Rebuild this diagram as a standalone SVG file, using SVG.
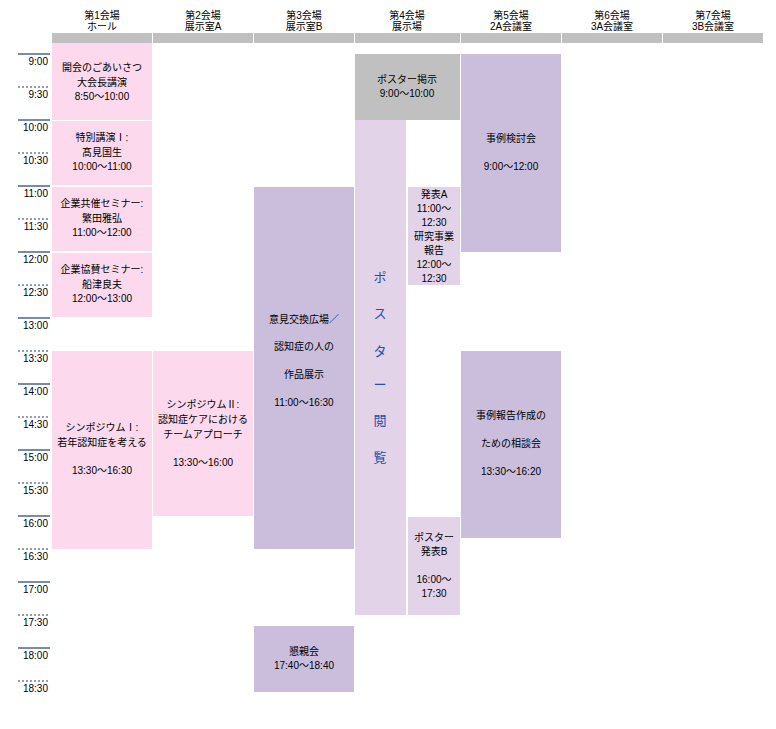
<svg xmlns="http://www.w3.org/2000/svg" width="776" height="729" viewBox="0 0 776 729">
<style>
text{font-family:"Liberation Sans","Noto Sans CJK JP",sans-serif;font-size:10px;fill:#000;text-anchor:middle}
.t{text-anchor:end}
.h{fill:#c0c0c0}
.pk{fill:#fcd9ec}
.pu{fill:#cbbedd}
.lp{fill:#e3d3e8}
.sl{stroke:#1f3f6f;stroke-width:1.2}
.dl{stroke:#1f3f6f;stroke-width:1.2;stroke-dasharray:2 2}
.v{fill:#2050b0;font-size:13px}
</style>
<rect width="776" height="729" fill="#fff"/>
<g id="headers">
<rect class="h" x="52" y="33" width="100" height="10"/><text x="102" y="19">第1会場</text><text x="102" y="30">ホール</text>
<rect class="h" x="153" y="33" width="100" height="10"/><text x="203" y="19">第2会場</text><text x="203" y="30">展示室A</text>
<rect class="h" x="254" y="33" width="100" height="10"/><text x="304" y="19">第3会場</text><text x="304" y="30">展示室B</text>
<rect class="h" x="355" y="33" width="105" height="10"/><text x="407" y="19">第4会場</text><text x="407" y="30">展示場</text>
<rect class="h" x="461" y="33" width="100" height="10"/><text x="511" y="19">第5会場</text><text x="511" y="30">2A会議室</text>
<rect class="h" x="562" y="33" width="100" height="10"/><text x="612" y="19">第6会場</text><text x="612" y="30">3A会議室</text>
<rect class="h" x="663" y="33" width="100" height="10"/><text x="713" y="19">第7会場</text><text x="713" y="30">3B会議室</text>
</g>
<g id="times">
<line class="sl" x1="18" y1="54" x2="50" y2="54"/><text class="t" x="48" y="65">9:00</text>
<line class="dl" x1="18" y1="87" x2="50" y2="87"/><text class="t" x="48" y="98">9:30</text>
<line class="sl" x1="18" y1="120" x2="50" y2="120"/><text class="t" x="48" y="131">10:00</text>
<line class="dl" x1="18" y1="153" x2="50" y2="153"/><text class="t" x="48" y="164">10:30</text>
<line class="sl" x1="18" y1="186" x2="50" y2="186"/><text class="t" x="48" y="197">11:00</text>
<line class="dl" x1="18" y1="219" x2="50" y2="219"/><text class="t" x="48" y="230">11:30</text>
<line class="sl" x1="18" y1="252" x2="50" y2="252"/><text class="t" x="48" y="263">12:00</text>
<line class="dl" x1="18" y1="285" x2="50" y2="285"/><text class="t" x="48" y="296">12:30</text>
<line class="sl" x1="18" y1="318" x2="50" y2="318"/><text class="t" x="48" y="329">13:00</text>
<line class="dl" x1="18" y1="351" x2="50" y2="351"/><text class="t" x="48" y="362">13:30</text>
<line class="sl" x1="18" y1="384" x2="50" y2="384"/><text class="t" x="48" y="395">14:00</text>
<line class="dl" x1="18" y1="417" x2="50" y2="417"/><text class="t" x="48" y="428">14:30</text>
<line class="sl" x1="18" y1="450" x2="50" y2="450"/><text class="t" x="48" y="461">15:00</text>
<line class="dl" x1="18" y1="483" x2="50" y2="483"/><text class="t" x="48" y="494">15:30</text>
<line class="sl" x1="18" y1="516" x2="50" y2="516"/><text class="t" x="48" y="527">16:00</text>
<line class="dl" x1="18" y1="549" x2="50" y2="549"/><text class="t" x="48" y="560">16:30</text>
<line class="sl" x1="18" y1="582" x2="50" y2="582"/><text class="t" x="48" y="593">17:00</text>
<line class="dl" x1="18" y1="615" x2="50" y2="615"/><text class="t" x="48" y="626">17:30</text>
<line class="sl" x1="18" y1="648" x2="50" y2="648"/><text class="t" x="48" y="659">18:00</text>
<line class="dl" x1="18" y1="681" x2="50" y2="681"/><text class="t" x="48" y="692">18:30</text>
</g>
<g id="c1a"><rect class="pk" x="52" y="43" width="100" height="77"/><text x="102" y="71">開会のごあいさつ</text><text x="102" y="86">大会長講演</text><text x="102" y="100">8:50〜10:00</text></g>
<g id="c1b"><rect class="pk" x="52" y="121" width="100" height="64"/><text x="102" y="141">特別講演Ⅰ:</text><text x="102" y="156">髙見国生</text><text x="102" y="170">10:00〜11:00</text></g>
<g id="c1c"><rect class="pk" x="52" y="187" width="100" height="64"/><text x="102" y="207">企業共催セミナー:</text><text x="102" y="222">繁田雅弘</text><text x="102" y="236">11:00〜12:00</text></g>
<g id="c1d"><rect class="pk" x="52" y="253" width="100" height="64"/><text x="102" y="273">企業協賛セミナー:</text><text x="102" y="288">船津良夫</text><text x="102" y="302">12:00〜13:00</text></g>
<g id="c1e"><rect class="pk" x="52" y="351" width="100" height="198"/><text x="102" y="431">シンポジウムⅠ:</text><text x="102" y="446">若年認知症を考える</text><text x="102" y="474">13:30〜16:30</text></g>
<g id="c2"><rect class="pk" x="153" y="351" width="100" height="165"/><text x="203" y="408">シンポジウムⅡ:</text><text x="203" y="423">認知症ケアにおける</text><text x="203" y="438">チームアプローチ</text><text x="203" y="466">13:30〜16:00</text></g>
<g id="c3a"><rect class="pu" x="254" y="187" width="100" height="362"/><text x="304" y="323">意見交換広場／</text><text x="304" y="350">認知症の人の</text><text x="304" y="378">作品展示</text><text x="304" y="406">11:00〜16:30</text></g>
<g id="c3b"><rect class="pu" x="254" y="626" width="100" height="66"/><text x="304" y="655">懇親会</text><text x="304" y="669">17:40〜18:40</text></g>
<g id="c4a"><rect class="h" x="355" y="54" width="105" height="66"/><text x="407" y="83">ポスター掲示</text><text x="407" y="97">9:00〜10:00</text></g>
<g id="c4b"><rect class="lp" x="355" y="120" width="51" height="495"/>
<text class="v" x="380" y="282">ポ</text><text class="v" x="380" y="318">ス</text><text class="v" x="380" y="356">タ</text><text class="v" x="380" y="389">ー</text><text class="v" x="380" y="425">閲</text><text class="v" x="380" y="462">覧</text></g>
<g id="c4c"><rect class="lp" x="408" y="187" width="52" height="98"/><text x="434" y="198">発表A</text><text x="434" y="212">11:00〜</text><text x="434" y="226">12:30</text><text x="434" y="240">研究事業</text><text x="434" y="254">報告</text><text x="434" y="268">12:00〜</text><text x="434" y="282">12:30</text></g>
<g id="c4d"><rect class="lp" x="408" y="517" width="52" height="98"/><text x="434" y="541">ポスター</text><text x="434" y="555">発表B</text><text x="434" y="583">16:00〜</text><text x="434" y="597">17:30</text></g>
<g id="c5a"><rect class="pu" x="461" y="54" width="100" height="198"/><text x="511" y="142">事例検討会</text><text x="511" y="170">9:00〜12:00</text></g>
<g id="c5b"><rect class="pu" x="461" y="351" width="100" height="187"/><text x="511" y="419">事例報告作成の</text><text x="511" y="447">ための相談会</text><text x="511" y="475">13:30〜16:20</text></g>
<g id="connectors"/>
</svg>
